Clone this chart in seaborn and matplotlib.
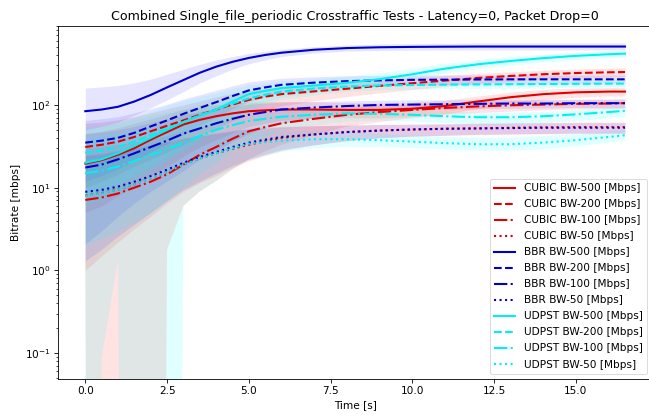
import numpy as np
import pandas as pd
import matplotlib
matplotlib.use("Agg")
import matplotlib.pyplot as plt
import seaborn as sns

# ---- data ----
time_s = [0, 0.5, 1, 1.5, 2, 2.5, 3, 3.5, 4, 4.5, 5, 5.5, 6, 7, 8, 9, 10, 11, 12, 13, 14, 15, 16, 16.5]

cubic_500 = [19.5, 21.5, 25, 30, 38, 47, 58, 66, 73, 79, 84, 86, 88, 88, 87, 87, 90, 97, 110, 124, 135, 142, 145, 145]
cubic_500_lo = [5, 6, 8, 10.5, 14, 18, 24, 31, 38, 46, 55, 60, 65, 69, 70, 70, 72, 78, 90, 103, 115, 124, 128, 128]
cubic_500_hi = [45, 48, 53, 60, 68, 78, 88, 94, 100, 104, 108, 109, 110, 109, 107, 105, 107, 114, 128, 143, 154, 160, 162, 162]

cubic_200 = [31, 33, 36, 41, 48, 56, 65, 76, 88, 101, 115, 126, 135, 146, 157, 170, 183, 197, 212, 224, 235, 243, 248, 250]
cubic_200_lo = [10, 12, 14.5, 18, 22, 27, 33, 42, 52, 64, 76, 88, 98, 112, 126, 140, 153, 167, 182, 194, 205, 213, 218, 220]
cubic_200_hi = [60, 62, 66, 72, 80, 90, 100, 112, 125, 138, 150, 158, 165, 175, 187, 200, 214, 228, 240, 252, 263, 272, 278, 280]

cubic_100 = [7.1, 7.6, 8.5, 10, 11.8, 14.5, 19, 25, 31, 39, 48, 54, 60, 68, 76, 82, 87, 92, 96, 99, 101, 103, 104, 105]
cubic_100_lo = [1.0, 0, 0, 0, 0, 1.77, 6, 9, 12, 16.5, 22, 27.5, 33, 43, 55, 62, 69, 76, 80, 83, 86, 88, 89, 90]
cubic_100_hi = [30, 31, 33, 35, 38, 42, 48, 54, 60, 68, 75, 80, 85, 89, 94, 98, 101, 105, 108, 111, 113, 115, 116, 117]

cubic_50 = [8.0, 8.6, 9.5, 11, 13, 15.5, 19, 22.5, 26, 29.5, 33, 36.5, 40, 44, 47, 49, 50.5, 51.5, 52, 53, 53.5, 54, 54, 54]
cubic_50_lo = [1.0, 1.5, 2.2, 3.2, 4.5, 6.5, 9, 11.5, 14, 17.5, 21, 24.5, 28, 33, 37, 40, 42, 43, 44, 44.5, 45, 46, 46, 46]
cubic_50_hi = [24, 25, 27, 29, 32, 35, 39, 42, 45, 48, 51, 52.5, 54, 56, 57, 58, 58.5, 59, 60, 60.5, 61, 62, 62, 62]

bbr_500 = [84, 88, 95, 110, 132, 163, 200, 245, 290, 332, 370, 402, 428, 465, 487, 498, 503, 506, 508, 508, 508, 508, 508, 508]
bbr_500_lo = [50, 55, 62, 75, 92, 115, 145, 185, 225, 270, 315, 350, 385, 425, 447, 455, 459, 461, 462, 462, 462, 462, 462, 462]
bbr_500_hi = [160, 165, 172, 185, 205, 235, 270, 310, 350, 385, 420, 445, 470, 505, 530, 545, 552, 556, 560, 560, 560, 560, 560, 560]

bbr_200 = [35, 37, 40, 46, 55, 65, 78, 92, 108, 128, 150, 163, 175, 186, 194, 198, 201, 202, 203, 204, 204, 204, 204, 204]
bbr_200_lo = [12, 14, 17, 21, 27, 34, 44, 56, 70, 90, 110, 126, 140, 153, 163, 168, 173, 176, 178, 180, 180, 180, 180, 180]
bbr_200_hi = [65, 68, 72, 80, 90, 102, 118, 133, 150, 170, 190, 200, 210, 219, 225, 228, 230, 230, 230, 230, 230, 230, 230, 230]

bbr_100 = [17.5, 19, 22, 26, 31, 37, 45, 52, 60, 68, 76, 82, 88, 93, 97, 100, 101, 102, 103, 104, 104, 105, 105, 105]
bbr_100_lo = [2.1, 3, 4.5, 6.5, 9, 12, 16, 22, 28, 36, 45, 53, 60, 70, 78, 84, 87, 89, 90, 91, 92, 93, 93, 93]
bbr_100_hi = [45, 47, 50, 55, 61, 68, 76, 83, 90, 96, 102, 105, 108, 110, 112, 114, 115, 115, 116, 116, 116, 117, 117, 117]

bbr_50 = [8.9, 9.4, 10.3, 11.8, 13.8, 16.5, 20, 23.5, 27, 31, 35, 38, 41, 44, 47, 49, 50.5, 51.5, 52, 52.5, 53, 53, 53, 53]
bbr_50_lo = [1.3, 1.8, 2.6, 3.6, 5, 7, 9.5, 12, 15, 18.5, 22, 25.5, 29, 33, 37, 40, 42, 43, 44, 44.5, 45, 45, 45, 45]
bbr_50_hi = [25, 26, 28, 30, 33, 36, 40, 43, 46, 49, 52, 53.5, 55, 56, 57, 58, 58.5, 59, 60, 60.5, 61, 61, 61, 61]

udpst_500 = [20, 22, 26, 32, 40, 50, 62, 74, 88, 110, 135, 148, 160, 172, 185, 205, 235, 275, 310, 340, 368, 392, 410, 417]
udpst_500_lo = [6, 7, 9, 12, 16, 21, 28, 37, 48, 68, 90, 108, 125, 140, 155, 175, 205, 242, 275, 303, 330, 355, 372, 378]
udpst_500_hi = [50, 55, 62, 72, 84, 98, 112, 126, 140, 158, 175, 185, 195, 207, 222, 245, 278, 318, 355, 385, 410, 435, 452, 460]

udpst_200 = [26.5, 28, 31, 36, 43, 52, 62, 75, 88, 104, 120, 133, 145, 158, 167, 172, 174, 176, 177, 178, 179, 180, 181, 181]
udpst_200_lo = [8, 9, 11, 14, 18, 23, 30, 40, 52, 68, 85, 100, 115, 132, 145, 152, 155, 157, 158, 159, 160, 162, 163, 163]
udpst_200_hi = [55, 57, 61, 67, 74, 82, 90, 102, 115, 130, 145, 155, 165, 177, 185, 190, 192, 194, 195, 196, 197, 198, 200, 200]

udpst_100 = [15, 16, 18, 21, 25, 29, 35, 42, 50, 57, 64, 68, 72, 76, 79, 78, 76, 73, 71, 71, 73, 77, 82, 85]
udpst_100_lo = [2.0, 2.4, 3.0, 3.8, 5, 7, 10, 15, 20, 28, 36, 43, 50, 57, 63, 66, 64, 61, 59, 59, 61, 65, 70, 73]
udpst_100_hi = [40, 42, 45, 48, 52, 57, 62, 67, 72, 77, 82, 84, 86, 88, 90, 90, 88, 85, 82, 82, 84, 88, 93, 97]

udpst_50 = [7.9, 8.5, 9.5, 11, 13, 15.5, 19, 22.5, 26, 30, 34, 35.5, 37, 38.5, 38.5, 37.5, 36, 34.5, 33.5, 33.5, 35, 37.5, 41, 43]
udpst_50_lo = [0, 0.087, 1.34, 0, 0, 0, 6, 9, 12, 17, 22, 24.5, 27, 30, 31, 31, 30, 29, 28, 28, 29, 31.5, 35, 37]
udpst_50_hi = [22, 23, 25, 27, 30, 33, 37, 40, 43, 45, 47, 47.5, 48, 48, 47, 45, 43, 41, 40, 40, 42, 44, 48, 50]

series = [
    ("CUBIC BW-500 [Mbps]", cubic_500, cubic_500_lo, cubic_500_hi, "CUBIC", "-"),
    ("CUBIC BW-200 [Mbps]", cubic_200, cubic_200_lo, cubic_200_hi, "CUBIC", "--"),
    ("CUBIC BW-100 [Mbps]", cubic_100, cubic_100_lo, cubic_100_hi, "CUBIC", "-."),
    ("CUBIC BW-50 [Mbps]", cubic_50, cubic_50_lo, cubic_50_hi, "CUBIC", ":"),
    ("BBR BW-500 [Mbps]", bbr_500, bbr_500_lo, bbr_500_hi, "BBR", "-"),
    ("BBR BW-200 [Mbps]", bbr_200, bbr_200_lo, bbr_200_hi, "BBR", "--"),
    ("BBR BW-100 [Mbps]", bbr_100, bbr_100_lo, bbr_100_hi, "BBR", "-."),
    ("BBR BW-50 [Mbps]", bbr_50, bbr_50_lo, bbr_50_hi, "BBR", ":"),
    ("UDPST BW-500 [Mbps]", udpst_500, udpst_500_lo, udpst_500_hi, "UDPST", "-"),
    ("UDPST BW-200 [Mbps]", udpst_200, udpst_200_lo, udpst_200_hi, "UDPST", "--"),
    ("UDPST BW-100 [Mbps]", udpst_100, udpst_100_lo, udpst_100_hi, "UDPST", "-."),
    ("UDPST BW-50 [Mbps]", udpst_50, udpst_50_lo, udpst_50_hi, "UDPST", ":"),
]

line_colors = {"CUBIC": "#e00000", "BBR": "#0000c8", "UDPST": "#00f0f0"}
band_colors = {"CUBIC": "#ff0000", "BBR": "#0000ff", "UDPST": "#00ffff"}
band_alpha = {"CUBIC": 0.11, "BBR": 0.1, "UDPST": 0.12}

fig = plt.figure(figsize=(6.49, 4.18), dpi=100)
ax = fig.add_axes([58.3 / 649, 1 - 379 / 418, (652 - 58.3) / 649, (379 - 26) / 418])
ax.set_yscale("log")

for label, mean, lo, hi, proto, ls in series:
    df = pd.DataFrame({"t": time_s, "v": mean})
    lower = np.clip(np.asarray(lo, dtype=float), 1e-30, None)  # non-positive bound -> off-axis
    ax.fill_between(time_s, lower, hi, color=band_colors[proto],
                    alpha=band_alpha[proto], linewidth=0)
    sns.lineplot(data=df, x="t", y="v", ax=ax, color=line_colors[proto],
                 linestyle=ls, linewidth=1.5, label=label)

ax.set_xlim(-0.825, 17.325)
ax.set_ylim(0.0486, 900)
ax.set_xticks([0, 2.5, 5, 7.5, 10, 12.5, 15])
ax.set_xticklabels(["0.0", "2.5", "5.0", "7.5", "10.0", "12.5", "15.0"])
ax.tick_params(axis="both", which="major", labelsize=7.6, length=2.7, width=0.6, pad=2.6)
ax.tick_params(axis="both", which="minor", length=1.5, width=0.5)
for sp in ax.spines.values():
    sp.set_linewidth(0.6)

ax.set_title("Combined Single_file_periodic Crosstraffic Tests - Latency=0, Packet Drop=0",
             fontsize=9.1, pad=4.5)
ax.set_xlabel("Time [s]", fontsize=7.6, labelpad=3)
ax.set_ylabel("Bitrate [mbps]", fontsize=7.6, labelpad=3)

leg = ax.legend(loc="lower right", fontsize=7.6, frameon=True, borderaxespad=0.5,
                handlelength=2.0, labelspacing=0.57, fancybox=True)
leg.get_frame().set_linewidth(0.6)

fig.savefig("out.png", dpi=100)
